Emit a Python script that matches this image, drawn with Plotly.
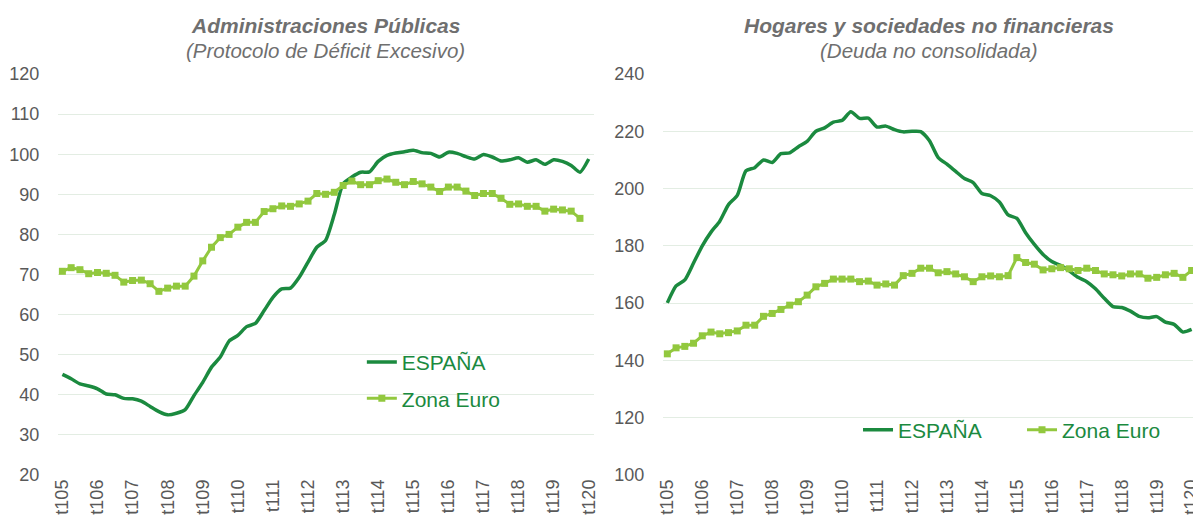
import pandas as pd
import plotly.graph_objects as go
from plotly.subplots import make_subplots

# quarterly categories 2005T1 .. 2020T1
QUARTERS = [str(p).replace("Q", "T") for p in pd.period_range("2005Q1", "2020Q1", freq="Q")]
TICK_LABELS = ["t105", "t106", "t107", "t108", "t109", "t110", "t111", "t112",
               "t113", "t114", "t115", "t116", "t117", "t118", "t119", "t120"]

# Administraciones Públicas (% PIB)
AAPP_ESPANA = [45.1, 44.0, 42.7, 42.2, 41.5, 40.2, 40.0, 39.1, 39.0, 38.4,
               37.1, 35.8, 35.0, 35.4, 36.3, 39.8, 43.1, 46.9, 49.4, 53.4,
               54.8, 57.0, 57.8, 61.0, 64.3, 66.4, 66.6, 69.3, 73.1, 76.8,
               78.5, 85.0, 92.6, 94.3, 95.5, 95.6, 98.2, 99.7, 100.3, 100.6,
               101.0, 100.4, 100.2, 99.3, 100.5, 100.2, 99.4, 98.8, 99.9, 99.3,
               98.3, 98.6, 99.1, 98.0, 98.6, 97.5, 98.6, 98.2, 97.2, 95.5, 98.8]
AAPP_ZONA_EURO = [70.8, 71.7, 71.2, 70.2, 70.5, 70.3, 69.8, 68.1, 68.5, 68.6,
                  67.7, 65.8, 66.6, 67.1, 67.1, 69.6, 73.4, 76.8, 79.2, 80.0,
                  81.8, 83.0, 83.0, 85.7, 86.4, 87.1, 87.0, 87.6, 88.3, 90.2,
                  90.0, 90.5, 92.2, 93.3, 92.4, 92.4, 93.4, 93.8, 93.0, 92.4,
                  93.2, 92.6, 91.8, 90.7, 91.8, 91.8, 90.8, 89.7, 90.2, 90.2,
                  89.0, 87.5, 87.6, 87.0, 87.0, 85.8, 86.3, 86.1, 85.8, 84.0]

# Hogares y sociedades no financieras (% PIB)
PRIV_ESPANA = [160.1, 166.0, 168.1, 174.0, 180.0, 184.8, 188.6, 194.4, 197.6, 206.2,
               207.3, 210.0, 209.1, 212.2, 212.5, 214.6, 216.5, 220.0, 221.2, 223.2,
               223.8, 226.8, 224.5, 224.6, 221.5, 221.8, 220.6, 219.8, 220.0, 219.9,
               216.7, 210.8, 208.5, 206.0, 203.5, 202.1, 198.3, 197.5, 195.3, 190.8,
               189.6, 184.6, 180.5, 177.0, 174.5, 173.2, 171.3, 169.0, 167.5, 165.0,
               161.7, 158.8, 158.5, 157.2, 155.4, 154.9, 155.3, 153.4, 152.6, 149.9, 150.8]
PRIV_ZONA_EURO = [142.3, 144.4, 144.9, 146.0, 148.6, 149.9, 149.3, 149.7, 150.3, 152.3,
                  152.3, 155.4, 156.4, 157.8, 159.3, 160.5, 162.8, 165.7, 166.9, 168.4,
                  168.4, 168.4, 167.5, 167.7, 166.3, 166.7, 166.3, 169.6, 170.4, 172.2,
                  172.2, 170.6, 171.0, 170.2, 169.2, 167.5, 169.2, 169.5, 169.2, 169.6,
                  175.9, 174.2, 173.6, 171.6, 172.0, 172.4, 172.0, 171.4, 172.2, 171.4,
                  170.2, 169.9, 169.5, 170.2, 170.2, 168.7, 169.0, 169.9, 170.4, 169.0, 171.4]

DARK_GREEN = "#1b8a3f"
LIGHT_GREEN = "#92c83e"
GRID = "#e3ede3"
GREY = "#595959"
TITLE_GREY = "#6f6f6f"
FONT = "Liberation Sans, Arial, sans-serif"

fig = make_subplots(rows=1, cols=2)

# Left panel: public administrations
fig.add_trace(go.Scatter(
    x=QUARTERS, y=AAPP_ESPANA, name="ESPAÑA", mode="lines",
    line=dict(color=DARK_GREEN, width=3.5, shape="spline", smoothing=0.6),
    legend="legend", legendgroup="esp1"), row=1, col=1)
fig.add_trace(go.Scatter(
    x=QUARTERS[:len(AAPP_ZONA_EURO)], y=AAPP_ZONA_EURO, name="Zona Euro",
    mode="lines+markers", line=dict(color=LIGHT_GREEN, width=3),
    marker=dict(symbol="square", size=7, color=LIGHT_GREEN),
    legend="legend", legendgroup="ze1"), row=1, col=1)

# Right panel: households and non-financial corporations
fig.add_trace(go.Scatter(
    x=QUARTERS, y=PRIV_ESPANA, name="ESPAÑA", mode="lines",
    line=dict(color=DARK_GREEN, width=3.5, shape="spline", smoothing=0.6),
    legend="legend2"), row=1, col=2)
fig.add_trace(go.Scatter(
    x=QUARTERS, y=PRIV_ZONA_EURO, name="Zona Euro",
    mode="lines+markers", line=dict(color=LIGHT_GREEN, width=3),
    marker=dict(symbol="square", size=7, color=LIGHT_GREEN),
    legend="legend2"), row=1, col=2)

axis_common = dict(showline=False, zeroline=False, automargin=False,
                   tickfont=dict(family=FONT, size=18, color=GREY))

fig.update_xaxes(**axis_common, type="category", showgrid=False,
                 tickvals=QUARTERS[::4], ticktext=TICK_LABELS, tickangle=-90,
                 ticks="")
fig.update_xaxes(domain=[0, 0.471], range=[-0.5, 60.6], row=1, col=1)
fig.update_xaxes(domain=[0.5316, 1], range=[-0.5, 60.5], row=1, col=2)

fig.update_yaxes(**axis_common, showgrid=True, gridcolor=GRID, gridwidth=1,
                 ticks="outside", ticklen=14, tickcolor="rgba(0,0,0,0)")
fig.update_yaxes(range=[20, 120], dtick=10, row=1, col=1)
fig.update_yaxes(range=[100, 240], dtick=20, row=1, col=2)

titles = [
    (0.2355, "Administraciones Públicas", "(Protocolo de Déficit Excesivo)"),
    (0.7658, "Hogares y sociedades no financieras", "(Deuda no consolidada)"),
]
for x_pos, title, subtitle in titles:
    fig.add_annotation(x=x_pos, y=1.122, xref="paper", yref="paper", showarrow=False,
                       text=f"<b><i>{title}</i></b>", xanchor="center", yanchor="middle",
                       font=dict(family=FONT, size=21, color=TITLE_GREY))
    fig.add_annotation(x=x_pos, y=1.059, xref="paper", yref="paper", showarrow=False,
                       text=f"<i>{subtitle}</i>", xanchor="center", yanchor="middle",
                       font=dict(family=FONT, size=20.5, color=TITLE_GREY))

legend_font = dict(family=FONT, size=21, color=DARK_GREEN)

# page body has an 8px margin, so the figure is sized to end at the window edge
fig.update_layout(
    width=1193, height=514,
    margin=dict(l=50, r=5, t=66, b=47),
    plot_bgcolor="white", paper_bgcolor="white",
    showlegend=True,
    legend=dict(x=0.267, y=0.236, xanchor="left", yanchor="middle",
                font=legend_font, tracegroupgap=6, bgcolor="rgba(0,0,0,0)"),
    legend2=dict(orientation="h", x=0.703, y=0.112, xanchor="left", yanchor="middle",
                 font=legend_font, entrywidth=119, bgcolor="rgba(0,0,0,0)"),
)

fig.write_html("out.html")
